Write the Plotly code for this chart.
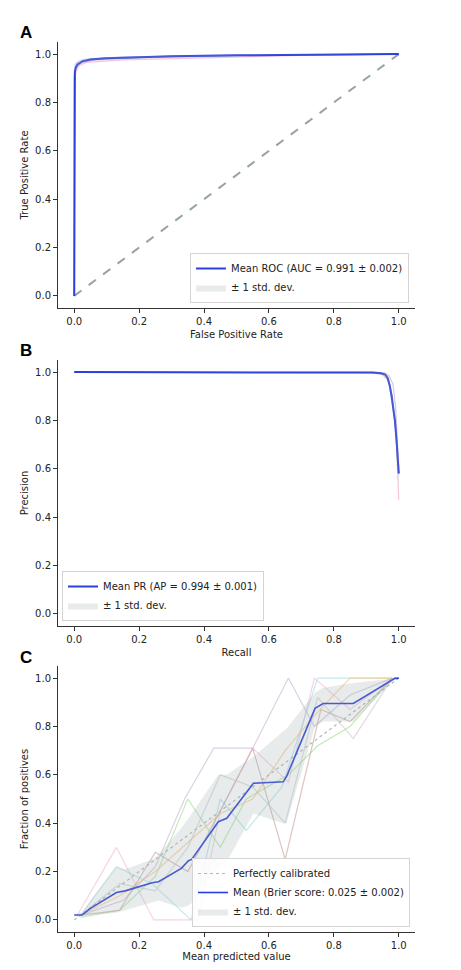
import plotly.graph_objects as go

# ---------------- data ----------------
# Panel A: ROC
roc_fpr = [0.0, 0.0, 0.001, 0.002, 0.005, 0.01, 0.025, 0.05, 0.1, 0.2, 0.3, 0.5, 0.7, 1.0]
roc_tpr = [0.0, 0.5, 0.88, 0.926, 0.945, 0.957, 0.97, 0.978, 0.983, 0.988, 0.991, 0.995, 0.998, 1.0]
roc_std = [0.0, 0.01, 0.012, 0.01, 0.008, 0.006, 0.005, 0.004, 0.004, 0.003, 0.003, 0.002, 0.001, 0.0]
roc_folds_fpr = [
    [0, 0, 0.003, 0.01, 0.03, 0.1, 0.3, 0.6, 1],
    [0, 0, 0.006, 0.015, 0.04, 0.15, 0.4, 0.7, 1],
    [0, 0, 0.004, 0.02, 0.06, 0.2, 0.5, 1],
]
roc_folds_tpr = [
    [0, 0.9, 0.958, 0.968, 0.978, 0.986, 0.991, 0.996, 1],
    [0, 0.88, 0.93, 0.952, 0.966, 0.976, 0.984, 0.995, 1],
    [0, 0.91, 0.945, 0.962, 0.975, 0.984, 0.993, 1],
]

# Panel B: Precision-Recall
pr_recall = [0.0, 0.2, 0.4, 0.6, 0.8, 0.88, 0.92, 0.945, 0.958, 0.966, 0.972, 0.978, 0.984, 0.988, 0.993, 0.997, 1.0]
pr_precision = [1.0, 1.0, 1.0, 1.0, 1.0, 0.999, 0.998, 0.995, 0.99, 0.975, 0.945, 0.9, 0.85, 0.8, 0.72, 0.64, 0.58]
pr_std = [0.0, 0.0, 0.0, 0.0, 0.001, 0.002, 0.003, 0.005, 0.008, 0.012, 0.018, 0.025, 0.03, 0.035, 0.04, 0.045, 0.055]
pr_folds_recall = [
    [0.0, 0.5, 0.9, 0.95, 0.97, 0.98, 0.985, 0.99, 0.995, 1.0],
    [0.0, 0.5, 0.9, 0.955, 0.97, 0.982, 0.99, 0.995, 1.0],
]
pr_folds_precision = [
    [1.0, 1.0, 0.999, 0.99, 0.96, 0.9, 0.82, 0.8, 0.65, 0.47],
    [1.0, 1.0, 1.0, 0.997, 0.985, 0.95, 0.86, 0.75, 0.6],
]

# Panel C: Calibration
cal_x = [0.0, 0.024, 0.05, 0.13, 0.157, 0.24, 0.26, 0.33, 0.352, 0.362, 0.444, 0.47, 0.552,
         0.644, 0.654, 0.742, 0.767, 0.86, 0.988, 1.0]
cal_mean = [0.02, 0.02, 0.048, 0.113, 0.12, 0.154, 0.158, 0.213, 0.245, 0.25, 0.406, 0.42, 0.565,
            0.571, 0.592, 0.875, 0.895, 0.895, 0.999, 1.0]
cal_upper = [0.025, 0.028, 0.08, 0.22, 0.21, 0.25, 0.27, 0.38, 0.42, 0.44, 0.6, 0.6, 0.675,
             0.78, 0.79, 0.94, 0.96, 0.98, 1.0, 1.0]
cal_lower = [0.015, 0.012, 0.02, 0.03, 0.04, 0.07, 0.08, 0.05, 0.06, 0.07, 0.22, 0.24, 0.44,
             0.40, 0.40, 0.80, 0.82, 0.82, 0.998, 1.0]
cal_folds_x = [
    [0.01, 0.13, 0.245, 0.38, 0.45, 0.55, 0.66, 0.74, 0.85, 0.98],
    [0.02, 0.15, 0.25, 0.34, 0.43, 0.55, 0.66, 0.74, 0.85, 0.98],
    [0.02, 0.14, 0.25, 0.35, 0.45, 0.53, 0.66, 0.75, 0.85, 0.98],
    [0.02, 0.13, 0.24, 0.36, 0.45, 0.53, 0.64, 0.75, 0.86, 0.98],
    [0.02, 0.14, 0.25, 0.35, 0.45, 0.55, 0.65, 0.75, 0.85, 0.98],
    [0.02, 0.14, 0.25, 0.35, 0.45, 0.55, 0.65, 0.76, 0.85, 0.98],
    [0.02, 0.14, 0.25, 0.35, 0.45, 0.55, 0.65, 0.75, 0.86, 0.98],
]
cal_folds_y = [
    [0.02, 0.30, 0.0, 0.0, 0.45, 0.71, 0.57, 1.0, 0.87, 1.0],
    [0.02, 0.08, 0.22, 0.5, 0.71, 0.71, 1.0, 0.8, 0.93, 1.0],
    [0.01, 0.04, 0.18, 0.5, 0.3, 0.5, 0.6, 0.72, 0.8, 1.0],
    [0.02, 0.22, 0.15, 0.0, 0.5, 0.37, 0.55, 1.0, 1.0, 1.0],
    [0.02, 0.1, 0.2, 0.32, 0.44, 0.5, 0.7, 0.86, 1.0, 1.0],
    [0.02, 0.04, 0.28, 0.2, 0.45, 0.71, 0.25, 0.87, 0.82, 1.0],
    [0.02, 0.15, 0.12, 0.3, 0.6, 0.55, 0.4, 0.92, 0.75, 1.0],
]

roc_label = "Mean ROC (AUC = 0.991 ± 0.002)"
pr_label = "Mean PR (AP = 0.994 ± 0.001)"
cal_label = "Mean (Brier score: 0.025 ± 0.002)"
std_label = "± 1 std. dev."
perfect_label = "Perfectly calibrated"
tick_vals = [0.0, 0.2, 0.4, 0.6, 0.8, 1.0]

# ---------------- styling ----------------
# page body has an 8px default margin; the figure is sized to fit the window with it
OFF = 8
ML, MR, MT, MB = 58 - OFF, 46, 42 - OFF, 30
PW, PH = 357, 890
W, H = ML + PW + MR, MT + PH + MB
FONT = "DejaVu Sans"
BLUE = "#2a3fdc"
FILL = "rgba(160,175,175,0.25)"
fold_colors = ["rgba(247,182,210,0.6)", "rgba(197,176,213,0.6)", "rgba(152,223,138,0.6)",
               "rgba(158,218,229,0.6)", "rgba(255,187,120,0.6)", "rgba(196,156,148,0.6)",
               "rgba(199,199,199,0.6)"]
roc_fold_colors = ["rgba(174,199,232,0.7)", "rgba(247,182,210,0.8)", "rgba(197,176,213,0.7)"]


def py2paper(py):
    # py: pixel row in the 461x970 window
    return (MT + PH - (py - OFF)) / PH


def px2paper(px):
    return (px - OFF - ML) / PW


fig = go.Figure()


def add_band(x, lo, hi, xa, ya, legend):
    fig.add_trace(go.Scatter(x=x, y=lo, mode="lines", line=dict(width=0), hoverinfo="skip",
                             showlegend=False, xaxis=xa, yaxis=ya))
    fig.add_trace(go.Scatter(x=x, y=hi, mode="lines", line=dict(width=0), fill="tonexty",
                             fillcolor=FILL, name=std_label, xaxis=xa, yaxis=ya, legend=legend))


# Panel A
for fx, fy, c in zip(roc_folds_fpr, roc_folds_tpr, roc_fold_colors):
    fig.add_trace(go.Scatter(x=fx, y=fy, mode="lines", line=dict(color=c, width=1.2),
                             showlegend=False, xaxis="x", yaxis="y"))
fig.add_trace(go.Scatter(x=[0, 1], y=[0, 1], mode="lines",
                         line=dict(color="#95a3a3", width=2, dash="dash"),
                         showlegend=False, xaxis="x", yaxis="y"))
fig.add_trace(go.Scatter(x=roc_fpr, y=roc_tpr, mode="lines", line=dict(color=BLUE, width=2),
                         name=roc_label, xaxis="x", yaxis="y", legend="legend"))
add_band(roc_fpr, [max(0, m - s) for m, s in zip(roc_tpr, roc_std)],
         [min(1, m + s) for m, s in zip(roc_tpr, roc_std)], "x", "y", "legend")

# Panel B
for fx, fy, c in zip(pr_folds_recall, pr_folds_precision, roc_fold_colors[1:]):
    fig.add_trace(go.Scatter(x=fx, y=fy, mode="lines", line=dict(color=c, width=1.2),
                             showlegend=False, xaxis="x2", yaxis="y2"))
fig.add_trace(go.Scatter(x=pr_recall, y=pr_precision, mode="lines", line=dict(color=BLUE, width=2),
                         name=pr_label, xaxis="x2", yaxis="y2", legend="legend2"))
add_band(pr_recall, [max(0, m - s) for m, s in zip(pr_precision, pr_std)],
         [min(1, m + s) for m, s in zip(pr_precision, pr_std)], "x2", "y2", "legend2")

# Panel C
for fx, fy, c in zip(cal_folds_x, cal_folds_y, fold_colors):
    fig.add_trace(go.Scatter(x=fx, y=fy, mode="lines", line=dict(color=c, width=1.2),
                             showlegend=False, xaxis="x3", yaxis="y3"))
fig.add_trace(go.Scatter(x=[0, 1], y=[0, 1], mode="lines",
                         line=dict(color="#b0b8b8", width=1.2, dash="dot"),
                         name=perfect_label, xaxis="x3", yaxis="y3", legend="legend3"))
fig.add_trace(go.Scatter(x=cal_x, y=cal_mean, mode="lines", line=dict(color=BLUE, width=1.6),
                         name=cal_label, xaxis="x3", yaxis="y3", legend="legend3"))
add_band(cal_x, cal_lower, cal_upper, "x3", "y3", "legend3")

# Axes
A_dom = [py2paper(308), py2paper(42)]
B_dom = [py2paper(626), py2paper(360)]
C_dom = [py2paper(932), py2paper(666)]


def ax(title, dom=None, anchor=None):
    d = dict(range=[-0.05, 1.05], tickvals=tick_vals, ticktext=[f"{v:.1f}" for v in tick_vals],
             showline=True, linecolor="#333", linewidth=1, ticks="outside", ticklen=4,
             tickwidth=1, tickcolor="#333", showgrid=False, zeroline=False,
             tickfont=dict(family=FONT, size=10, color="#222"),
             title=dict(text=title, font=dict(family=FONT, size=10, color="#222"), standoff=4),
             automargin=False, fixedrange=True)
    if dom is not None:
        d["domain"] = dom
    if anchor is not None:
        d["anchor"] = anchor
    return d


def leg(x, y, xanchor, yanchor):
    return dict(x=x, y=y, xanchor=xanchor, yanchor=yanchor, bgcolor="rgba(255,255,255,0.85)",
                bordercolor="#d4d4d4", borderwidth=1, font=dict(family=FONT, size=10, color="#222"),
                tracegroupgap=0, itemwidth=30, traceorder="normal")


fig.update_layout(
    width=W, height=H, margin=dict(l=ML, r=MR, t=MT, b=MB),
    paper_bgcolor="white", plot_bgcolor="white",
    font=dict(family=FONT, size=10, color="#222"),
    xaxis=ax("False Positive Rate", anchor="y"),
    yaxis=ax("True Positive Rate", dom=A_dom, anchor="x"),
    xaxis2=ax("Recall", anchor="y2"),
    yaxis2=ax("Precision", dom=B_dom, anchor="x2"),
    xaxis3=ax("Mean predicted value", anchor="y3"),
    yaxis3=ax("Fraction of positives", dom=C_dom, anchor="x3"),
    legend=leg(px2paper(409), py2paper(303), "right", "bottom"),
    legend2=leg(px2paper(62), py2paper(621), "left", "bottom"),
    legend3=leg(px2paper(410), py2paper(927), "right", "bottom"),
    annotations=[
        dict(text="<b>%s</b>" % t, x=px2paper(26), y=py2paper(yy), xref="paper", yref="paper",
             xanchor="center", yanchor="middle", showarrow=False,
             font=dict(family="Liberation Sans", size=17, color="black"))
        for t, yy in [("A", 33), ("B", 350), ("C", 657)]
    ],
)

fig.write_html("out.html")
